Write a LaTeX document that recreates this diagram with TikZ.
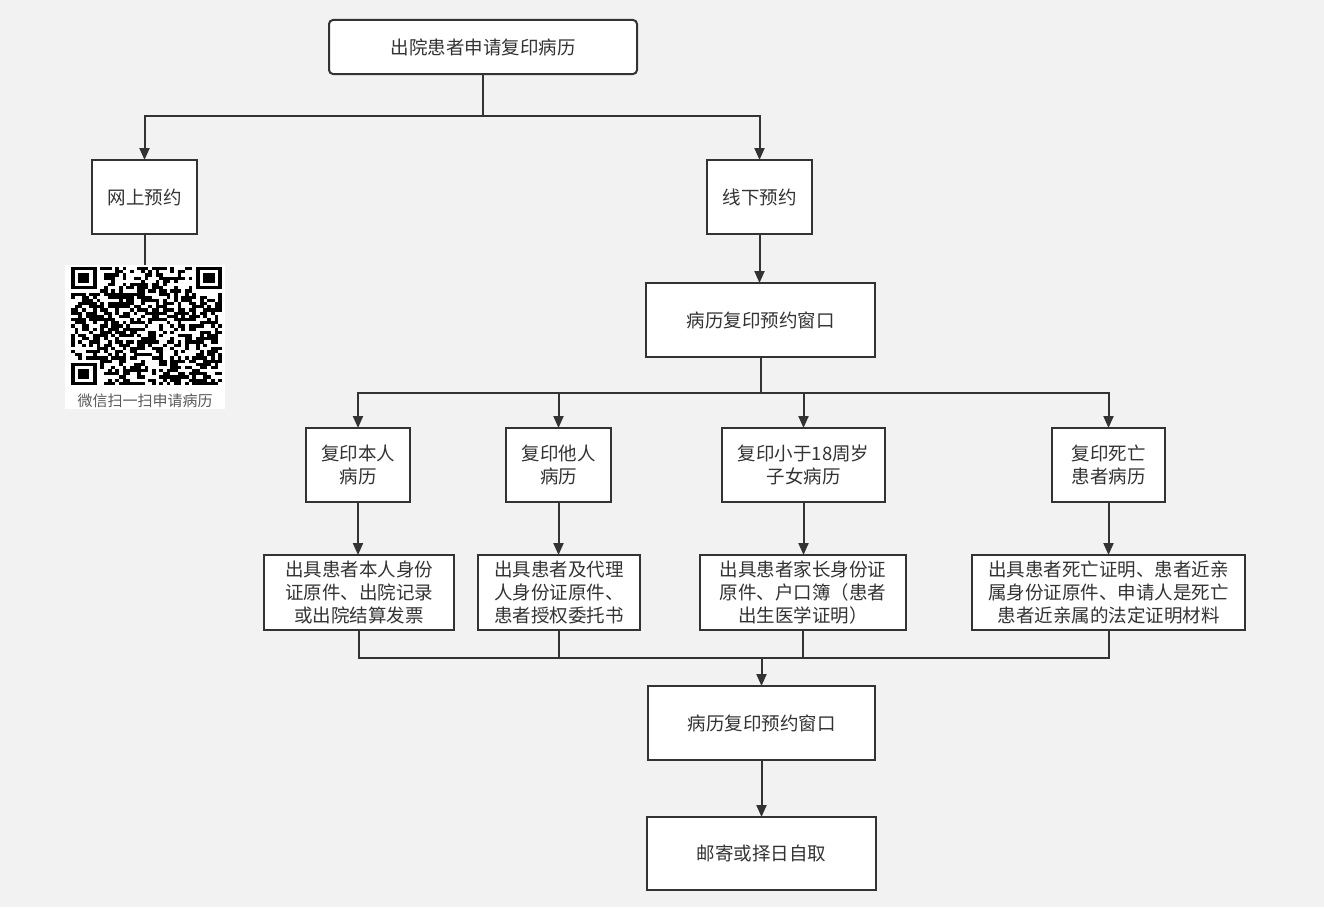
\documentclass[tikz,border=0pt]{standalone}
\usepackage{fontspec}
\setmainfont{Noto Sans CJK SC}
\usetikzlibrary{arrows.meta,calc}
\definecolor{bg}{HTML}{F2F2F2}
\definecolor{ln}{HTML}{333333}
\definecolor{tx}{HTML}{333333}
\definecolor{cap}{HTML}{5A5A5A}
\begin{document}
\begin{tikzpicture}[x=1pt,y=-1pt,
  box/.style={draw=ln, line width=2pt, fill=white, inner sep=0pt, outer sep=0pt,
    align=center, text=tx, font=\fontsize{18.5}{23}\selectfont},
  conn/.style={draw=ln, line width=2pt},
  arr/.style={conn, -{Triangle[length=12pt,width=10pt]}}]
\fill[bg] (0,0) rectangle (1324,907);
\useasboundingbox (0,0) rectangle (1324,907);

% nodes
\node[box, rounded corners=4pt, minimum width=308pt, minimum height=54pt] (top) at (483,47) {出院患者申请复印病历};
\node[box, minimum width=105pt, minimum height=74pt] (on) at (144.5,197) {网上预约};
\node[box, minimum width=105pt, minimum height=74pt] (off) at (759.5,197) {线下预约};
\node[box, minimum width=229pt, minimum height=74pt] (w1) at (760.5,320) {病历复印预约窗口};

\node[box, minimum width=104pt, minimum height=74pt] (c1) at (358,465) {复印本人\\病历};
\node[box, minimum width=105pt, minimum height=74pt] (c2) at (558.5,465) {复印他人\\病历};
\node[box, minimum width=163pt, minimum height=74pt] (c3) at (803.5,465) {复印小于18周岁\\子女病历};
\node[box, minimum width=113pt, minimum height=74pt] (c4) at (1108.5,465) {复印死亡\\患者病历};

\node[box, minimum width=190pt, minimum height=75pt] (e1) at (359,592.5) {出具患者本人身份\\证原件、出院记录\\或出院结算发票};
\node[box, minimum width=162pt, minimum height=75pt] (e2) at (559,592.5) {出具患者及代理\\人身份证原件、\\患者授权委托书};
\node[box, minimum width=206pt, minimum height=75pt] (e3) at (803,592.5) {出具患者家长身份证\\原件、户口簿（患者\\出生医学证明）};
\node[box, minimum width=273pt, minimum height=75pt] (e4) at (1108.5,592.5) {出具患者死亡证明、患者近亲\\属身份证原件、申请人是死亡\\患者近亲属的法定证明材料};

\node[box, minimum width=227pt, minimum height=74pt] (w2) at (761.5,723) {病历复印预约窗口};
\node[box, minimum width=229pt, minimum height=73pt] (fin) at (761.5,853.5) {邮寄或择日自取};

% QR code
\node[fill=white, inner sep=0pt, outer sep=0pt, minimum width=160pt, minimum height=144pt] (qr) at (145,337) {};
\begin{scope}[shift={(71,267)}]
  \pgfmathsetseed{20240}
  \foreach \i in {0,...,40}{
    \foreach \j in {0,...,36}{
      \pgfmathtruncatemacro\sk{or(and(\i<8,\j<8), or(and(\i>32,\j<8), and(\i<8,\j>28)))}
      \pgfmathrandominteger{\qv}{0}{99}
      \ifnum\sk=0
        \ifnum\qv<52
          \fill[black] (\i*3.68,\j*3.19) rectangle ++(3.7,3.21);
        \fi
      \fi
    }
  }
  \foreach \fx/\fy in {0/0, 34/0, 0/30}{
    \fill[black] (\fx*3.68,\fy*3.19) rectangle ++(7*3.68,7*3.19);
    \fill[white] (\fx*3.68+3.68,\fy*3.19+3.19) rectangle ++(5*3.68,5*3.19);
    \fill[black] (\fx*3.68+2*3.68,\fy*3.19+2*3.19) rectangle ++(3*3.68,3*3.19);
  }
\end{scope}
\node[font=\fontsize{15}{15}\selectfont, text=cap] (qrcap) at (145,401) {微信扫一扫申请病历};

% connectors
\coordinate (b1) at ([yshift=-42pt]top.south);
\draw[conn] (top.south) -- (b1);
\draw[arr] (b1) -| (on.north);
\draw[arr] (b1) -| (off.north);
\draw[conn] (on.south) -- (on.south |- qr.north);
\draw[arr] (off.south) -- (off.south |- w1.north);

\coordinate (b2) at ([yshift=-36pt]w1.south);
\draw[conn] (w1.south) -- (b2);
\foreach \c in {c1,c2,c3,c4}{
  \draw[arr] (b2) -| (\c.north);
}
\draw[arr] (c1.south) -- (c1.south |- e1.north);
\draw[arr] (c2.south) -- (c2.south |- e2.north);
\draw[arr] (c3.south) -- (c3.south |- e3.north);
\draw[arr] (c4.south) -- (c4.south |- e4.north);

\coordinate (b3) at ([yshift=-28pt]e1.south);
\coordinate (j) at (w2.north |- b3);
\foreach \e in {e1,e2,e3,e4}{
  \draw[conn] (\e.south) |- (j);
}
\draw[arr] (j) -- (w2.north);
\draw[arr] (w2.south) -- (fin.north);
\end{tikzpicture}
\end{document}
